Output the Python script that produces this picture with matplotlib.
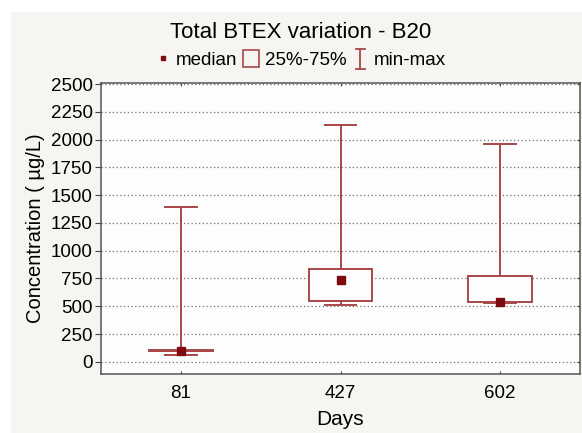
import matplotlib

matplotlib.use("Agg")

import matplotlib.pyplot as plt
from matplotlib.legend_handler import HandlerBase
from matplotlib.lines import Line2D
from matplotlib.patches import Patch, Rectangle

# values
days = ["81", "427", "602"]
minimum = [63, 508, 530]
q25 = [95, 549, 540]
median = [100, 733, 535]
q75 = [105, 832, 774]
maximum = [1395, 2130, 1965]

RED = "#a8484a"
DARK_RED = "#7d0a0e"
FIG_BG = "#f6f5f1"
AX_BG = "#fdfdfd"

plt.rcParams["font.family"] = ["Liberation Sans", "DejaVu Sans"]


class MinMaxHandler(HandlerBase):
    """Legend key shaped like the I whisker."""

    def create_artists(self, legend, orig_handle, xdescent, ydescent, width, height, fontsize, trans):
        cx = width / 2 - xdescent
        y0 = -ydescent - 1
        y1 = height - ydescent + 1
        w = width * 0.28
        kw = dict(color=RED, lw=1.3, transform=trans)
        return [
            Line2D([cx, cx], [y0, y1], **kw),
            Line2D([cx - w, cx + w], [y0, y0], **kw),
            Line2D([cx - w, cx + w], [y1, y1], **kw),
        ]


fig = plt.figure(figsize=(5.82, 4.33), dpi=100)
fig.patch.set_facecolor("white")
fig.add_artist(Rectangle((11 / 582, 0), 1, 1 - 12 / 433, transform=fig.transFigure,
                         facecolor=FIG_BG, edgecolor="none", zorder=-10))

ax = fig.add_axes([101 / 582, 1 - 374 / 433, 479 / 582, 291 / 433])
ax.set_facecolor(AX_BG)

stats = [
    {"label": d, "whislo": lo, "q1": a, "med": m, "q3": b, "whishi": hi}
    for d, lo, a, m, b, hi in zip(days, minimum, q25, median, q75, maximum)
]
ax.bxp(
    stats,
    positions=range(len(days)),
    widths=0.4,
    capwidths=0.2,
    showfliers=False,
    patch_artist=True,
    boxprops=dict(facecolor=AX_BG, edgecolor=RED, linewidth=1.4),
    whiskerprops=dict(color=RED, linewidth=1.4),
    capprops=dict(color=RED, linewidth=1.4),
    medianprops=dict(linewidth=0),
    zorder=3,
)
ax.plot(range(len(days)), median, ls="none", marker="s", markersize=5.5,
        color=DARK_RED, zorder=4)

ax.set_xlim(-0.5, 2.5)
ax.set_ylim(-110, 2510)
ax.set_yticks(range(0, 2501, 250))
ax.set_xticks(range(len(days)))
ax.set_xticklabels(days)
ax.yaxis.grid(True, linestyle=(0, (1, 2)), color="#707070", linewidth=0.9)
ax.set_axisbelow(True)

ax.tick_params(axis="y", which="both", direction="out", length=4, labelsize=13.5,
               right=True, color="#444444", pad=2)
ax.tick_params(axis="x", direction="in", length=2.5, labelsize=13.5, top=True,
               color="#444444", pad=8)
for side in ["left", "right", "top", "bottom"]:
    ax.spines[side].set_color("#555555")
    ax.spines[side].set_linewidth(1.1)
for tick in ax.yaxis.get_major_ticks():
    tick.tick2line.set_markersize(2.5)
    tick.tick2line.set_marker(matplotlib.lines.TICKLEFT)

ax.set_xlabel("Days", fontsize=15, labelpad=6)
ax.set_ylabel("Concentration ( µg/L)", fontsize=14.5, labelpad=4)

fig.text(0.516, 0.926, "Total BTEX variation - B20", ha="center", va="center", fontsize=16)

handles = [
    Line2D([], [], ls="none", marker="s", markersize=3.5, color=DARK_RED),
    Patch(facecolor="none", edgecolor=RED, linewidth=1.2),
    Line2D([], [], color=RED),
]
fig.legend(
    handles,
    ["median", "25%-75%", "min-max"],
    handler_map={handles[2]: MinMaxHandler()},
    loc="center",
    bbox_to_anchor=(0.516, 0.862),
    ncol=3,
    frameon=False,
    fontsize=13.5,
    handlelength=0.85,
    handleheight=1.0,
    handletextpad=0.3,
    columnspacing=0.3,
)

fig.savefig("out.png", dpi=100, facecolor=fig.get_facecolor())
